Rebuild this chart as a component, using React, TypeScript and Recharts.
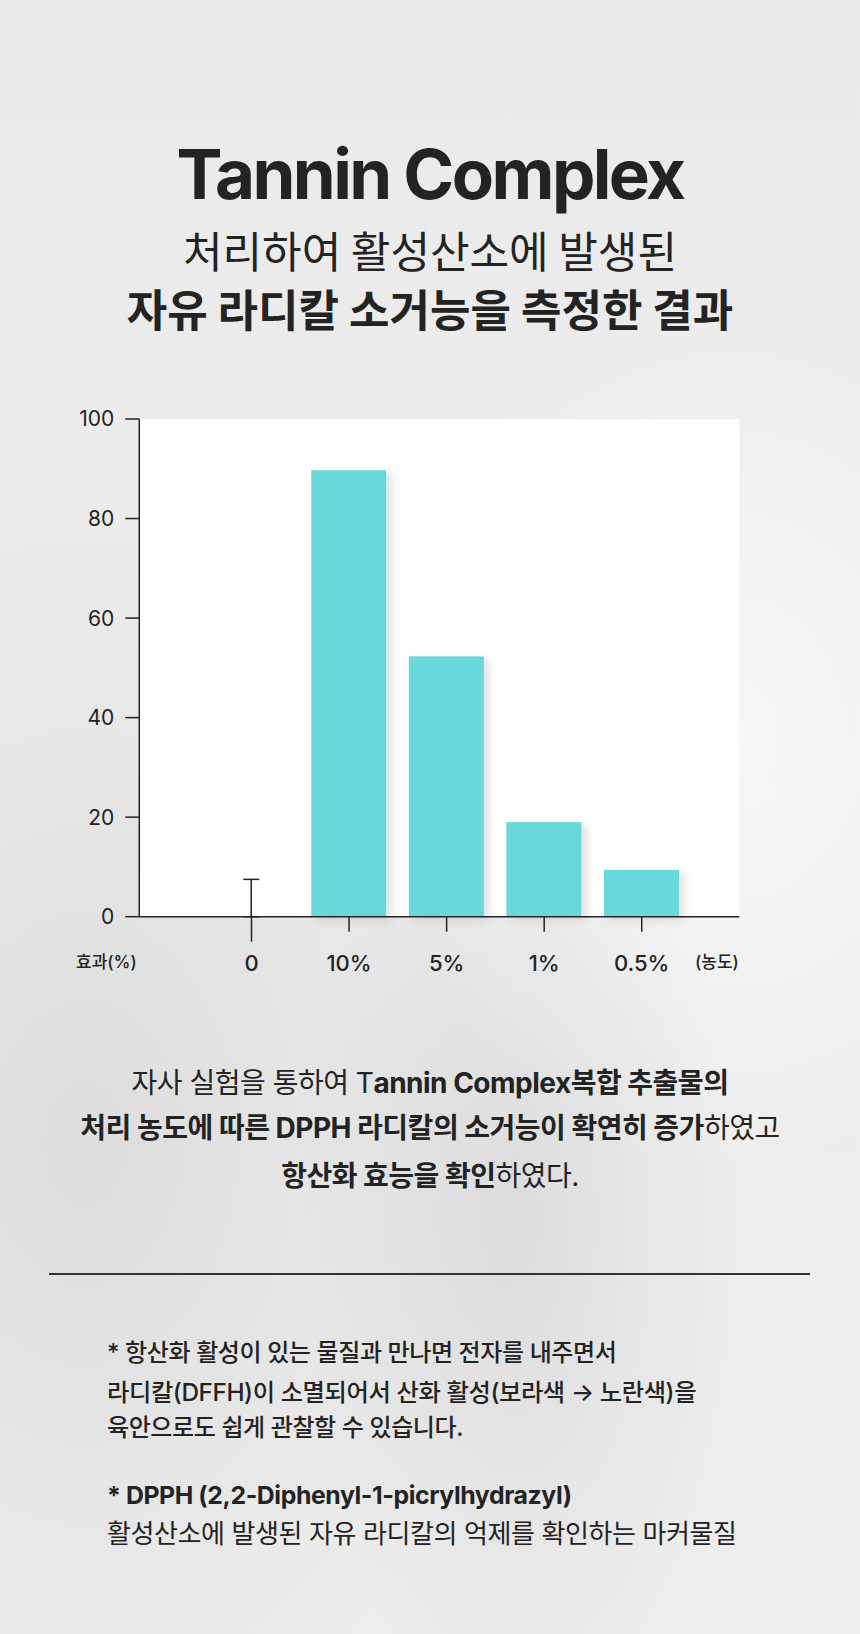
import React from "react";
import {
  BarChart,
  Bar,
  XAxis,
  YAxis,
  ErrorBar,
  CartesianGrid,
} from "recharts";

// 농도별 DPPH 라디칼 소거능 (효과 %)
const categories = ["0", "10%", "5%", "1%", "0.5%"];
const effect = [0, 89.7, 52.3, 19.0, 9.4];
const controlErr = [7.5, null, null, null, null];
const yTicks = [0, 20, 40, 60, 80, 100];

const data = categories.map((name, i) => ({
  pos: i + 1,
  name,
  value: effect[i],
  err: controlErr[i] == null ? undefined : [0, controlErr[i]],
}));

const xTicks = data.map((d) => d.pos);

const INK = "#232323";
const BAR = "#69d8da";
const SANS = "Inter, 'Noto Sans CJK KR', sans-serif";
const KR = "'Noto Sans CJK KR', sans-serif";

const XTick = (props: any) => {
  const { x, y, payload } = props;
  const idx = payload.value - 1;
  const len = idx === 0 ? 25 : 15;
  return (
    <g>
      <line x1={x} y1={y} x2={x} y2={y + len} stroke={INK} strokeWidth={1.5} />
      <text
        x={x}
        y={y + 46}
        textAnchor="middle"
        dominantBaseline="central"
        fontFamily={SANS}
        fontSize={22}
        fontWeight={500}
        fill={INK}
      >
        {categories[idx]}
      </text>
    </g>
  );
};

const ShadowBar = (props: any) => {
  const { x, y, width, height, fill } = props;
  if (!height || height <= 0) return <g />;
  return (
    <rect
      x={x}
      y={y}
      width={width}
      height={height}
      fill={fill}
      filter="url(#barShadow)"
    />
  );
};

const Line = ({ top, size, weight, children, family = SANS, lh }: any) => (
  <div
    style={{
      position: "absolute",
      left: 0,
      top,
      width: 860,
      textAlign: "center",
      fontFamily: family,
      fontSize: size,
      fontWeight: weight,
      lineHeight: `${lh ?? size}px`,
      color: INK,
      whiteSpace: "nowrap",
    }}
  >
    {children}
  </div>
);

const Note = ({ top, weight, size = 24, children }: any) => (
  <div
    style={{
      position: "absolute",
      left: 107,
      top,
      fontFamily: SANS,
      fontSize: size,
      fontWeight: weight,
      lineHeight: "30px",
      color: INK,
      whiteSpace: "nowrap",
      letterSpacing: -0.4,
    }}
  >
    {children}
  </div>
);

export default function App() {
  return (
    <div
      style={{
        position: "absolute",
        left: 0,
        top: 0,
        width: 860,
        height: 1634,
        overflow: "hidden",
        background:
          "radial-gradient(ellipse at 85% 45%, rgba(255,255,255,0.6), rgba(255,255,255,0) 35%)," +
          "radial-gradient(ellipse at 10% 70%, rgba(205,205,205,0.5), rgba(205,205,205,0) 40%)," +
          "radial-gradient(ellipse at 60% 75%, rgba(200,200,200,0.45), rgba(200,200,200,0) 30%)," +
          "linear-gradient(180deg, #ebebeb 0%, #ededed 50%, #eeeeee 100%)",
      }}
    >
      {/* 제목 */}
      <Line top={139} size={69} weight={700} lh={70}>
        <span style={{ letterSpacing: -2.6 }}>Tannin Complex</span>
      </Line>
      <Line top={228} size={43} weight={400} family={KR}>
        처리하여 활성산소에 발생된
      </Line>
      <Line top={286} size={44} weight={700} family={KR}>
        자유 라디칼 소거능을 측정한 결과
      </Line>

      {/* 차트 */}
      <div style={{ position: "absolute", left: 0, top: 380 }}>
        <BarChart
          width={860}
          height={620}
          data={data}
          margin={{ top: 39, right: 120.7, bottom: 0, left: 0 }}
        >
          <defs>
            <filter id="barShadow" x="-20%" y="-10%" width="150%" height="130%">
              <feDropShadow
                dx={5}
                dy={3}
                stdDeviation={4}
                floodColor="#000"
                floodOpacity={0.12}
              />
            </filter>
          </defs>
          <CartesianGrid
            fill="#ffffff"
            horizontal={false}
            vertical={false}
          />
          <XAxis
            dataKey="pos"
            type="number"
            domain={[-0.15, 6]}
            ticks={xTicks}
            height={83.3}
            axisLine={{ stroke: INK, strokeWidth: 1.5 }}
            tickLine={false}
            tickSize={0}
            tickMargin={0}
            tick={<XTick />}
            interval={0}
          />
          <XAxis
            xAxisId="top"
            orientation="top"
            dataKey="pos"
            type="number"
            domain={[-0.15, 6]}
            height={0}
            tick={false}
            tickLine={false}
            axisLine={{ stroke: INK, strokeWidth: 1.5 }}
          />
          <YAxis
            domain={[0, 100]}
            ticks={yTicks}
            width={139.3}
            tickSize={14}
            tickMargin={11}
            axisLine={{ stroke: INK, strokeWidth: 1.5 }}
            tickLine={{ stroke: INK, strokeWidth: 1.5 }}
            tick={{ fill: INK, fontSize: 21, fontFamily: SANS }}
          />
          <YAxis
            yAxisId="right"
            orientation="right"
            domain={[0, 100]}
            width={0}
            tick={false}
            tickLine={false}
            axisLine={{ stroke: INK, strokeWidth: 1.5 }}
          />
          <Bar
            dataKey="value"
            fill={BAR}
            barSize={75}
            shape={<ShadowBar />}
            isAnimationActive={false}
          >
            <ErrorBar
              dataKey="err"
              direction="y"
              width={8}
              stroke={INK}
              strokeWidth={1.5}
              isAnimationActive={false}
            />
          </Bar>
        </BarChart>
      </div>

      {/* 축 라벨 */}
      <div
        style={{
          position: "absolute",
          left: 76,
          top: 950,
          fontFamily: SANS,
          fontSize: 17,
          fontWeight: 500,
          lineHeight: "24px",
          color: INK,
          whiteSpace: "nowrap",
        }}
      >
        효과(%)
      </div>
      <div
        style={{
          position: "absolute",
          left: 695,
          top: 950,
          fontFamily: SANS,
          fontSize: 17,
          fontWeight: 500,
          lineHeight: "24px",
          color: INK,
          whiteSpace: "nowrap",
        }}
      >
        (농도)
      </div>

      {/* 설명 */}
      <Line top={1068} size={28} weight={400} lh={30}>
        <span style={{ letterSpacing: -0.5 }}>
          자사 실험을 통하여 T<b>annin Complex복합 추출물의</b>
        </span>
      </Line>
      <Line top={1113} size={28} weight={700} lh={30}>
        <span style={{ letterSpacing: -0.5 }}>
          처리 농도에 따른 DPPH 라디칼의 소거능이 확연히 증가
          <span style={{ fontWeight: 400 }}>하였고</span>
        </span>
      </Line>
      <Line top={1161} size={28} weight={700} lh={30}>
        <span style={{ letterSpacing: -0.5 }}>
          항산화 효능을 확인<span style={{ fontWeight: 400 }}>하였다.</span>
        </span>
      </Line>

      <div
        style={{
          position: "absolute",
          left: 49,
          top: 1273,
          width: 761,
          height: 1.5,
          background: "#333",
        }}
      />

      {/* 주석 */}
      <Note top={1338} weight={500}>
        * 항산화 활성이 있는 물질과 만나면 전자를 내주면서
      </Note>
      <Note top={1377} weight={500} size={24.3}>
        라디칼(DFFH)이 소멸되어서 산화 활성(보라색 → 노란색)을
      </Note>
      <Note top={1413} weight={500}>
        육안으로도 쉽게 관찰할 수 있습니다.
      </Note>
      <Note top={1480} weight={700} size={24.8}>
        * DPPH (2,2-Diphenyl-1-picrylhydrazyl)
      </Note>
      <Note top={1519} weight={400} size={26}>
        활성산소에 발생된 자유 라디칼의 억제를 확인하는 마커물질
      </Note>
    </div>
  );
}
